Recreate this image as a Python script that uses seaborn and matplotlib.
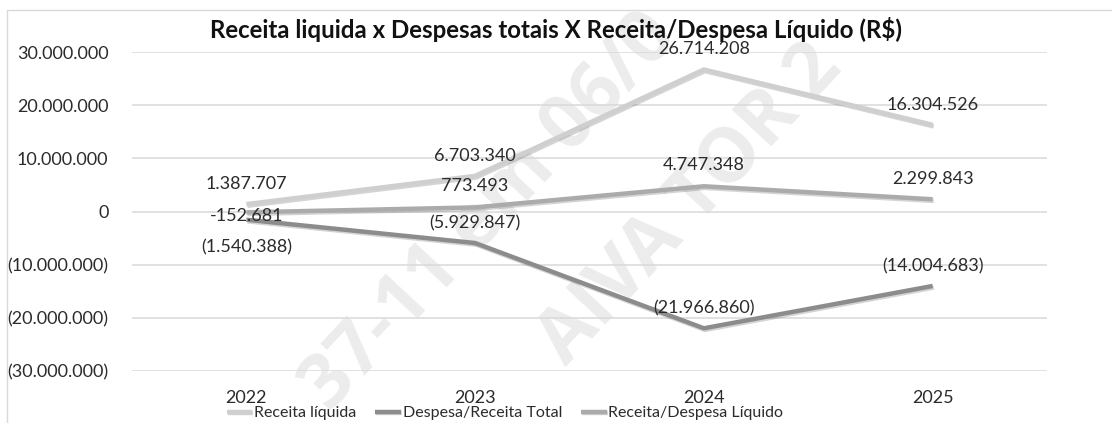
import matplotlib
matplotlib.use("Agg")
import matplotlib.pyplot as plt
import matplotlib.ticker as mticker
import matplotlib.patheffects as pe
from matplotlib.patches import Rectangle
import seaborn as sns
import pandas as pd

# Valores anuais (R$)
anos = ["2022", "2023", "2024", "2025"]
receita_liquida = [1387707, 6703340, 26714208, 16304526]
despesa_total = [-1540388, -5929847, -21966860, -14004683]
resultado_liquido = [-152681, 773493, 4747348, 2299843]

series = ["Receita líquida", "Despesa/Receita Total", "Receita/Despesa Líquido"]
cores = ["#cfcfcf", "#8c8c8c", "#ababab"]
y_ticks = [-30000000, -20000000, -10000000, 0, 10000000, 20000000, 30000000]
titulo = "Receita liquida x Despesas totais X Receita/Despesa Líquido (R$)"

sns.set_theme(style="white")
plt.rcParams["font.family"] = ["Lato", "DejaVu Sans"]
texto = "#2b2b2b"


def milhar(v):
    return f"{abs(int(round(v))):,}".replace(",", ".")


def fmt_parenteses(v):
    if v < 0:
        return f"({milhar(v)})"
    return milhar(v)


def fmt_sinal(v):
    return ("-" if v < 0 else "") + milhar(v)


df = pd.DataFrame({
    "ano": anos * 3,
    "valor": receita_liquida + despesa_total + resultado_liquido,
    "serie": [s for s in series for _ in anos],
})

fig = plt.figure(figsize=(11.12, 4.23), dpi=100)
ax = fig.add_axes([132 / 1112, 1 - 371 / 423, (1047 - 132) / 1112, (371 - 52) / 423])
ax.set_facecolor("none")

# moldura do gráfico
fig.patches.append(Rectangle((7 / 1112, -0.1), 1.2, 1.1 - 10 / 423, transform=fig.transFigure,
                             fill=False, edgecolor="#d9d9d9", linewidth=1.0, zorder=-2))

# marca d'água diagonal (atrás do gráfico)
for txt, (x, y), ang in [("37-11 em 06/0", (490, 212), 47), ("AIVA TOR 2", (690, 205), 47)]:
    fig.text(x / 1112, 1 - y / 423, txt, rotation=ang, ha="center", va="center",
             fontsize=54, fontweight="bold", color="#ececec", zorder=-1, family="Open Sans")

sns.lineplot(data=df, x="ano", y="valor", hue="serie", hue_order=series,
             palette=cores, linewidth=3.2, sort=False, ax=ax, legend=True, zorder=3)

for ln in ax.get_lines():
    ln.set_path_effects([pe.SimpleLineShadow(offset=(0.8, -1.2), alpha=0.25, shadow_color="#555555"),
                         pe.Normal()])
    ln.set_solid_capstyle("butt")

ax.set_xlim(-0.5, 3.5)
ax.set_ylim(-30000000, 30000000)
ax.set_yticks(y_ticks)
ax.yaxis.set_major_formatter(mticker.FuncFormatter(lambda v, p: fmt_parenteses(v)))
ax.grid(axis="y", color="#d9d9d9", linewidth=1.1)
ax.grid(axis="x", visible=False)
for s in ax.spines.values():
    s.set_visible(False)
ax.tick_params(axis="y", length=0, pad=17, labelsize=13, labelcolor=texto)
ax.tick_params(axis="x", length=0, pad=14, labelsize=13, labelcolor=texto)
ax.set_xlabel("")
ax.set_ylabel("")

# rótulos de dados
deslocamentos = {
    "Receita líquida": [20, 20, 20, 20],
    "Despesa/Receita Total": [-28, 20, 20, 20],
    "Receita/Despesa Líquido": [-4, 21, 21, 20],
}
formatos = {
    "Receita líquida": fmt_parenteses,
    "Despesa/Receita Total": fmt_parenteses,
    "Receita/Despesa Líquido": fmt_sinal,
}
valores = {
    "Receita líquida": receita_liquida,
    "Despesa/Receita Total": despesa_total,
    "Receita/Despesa Líquido": resultado_liquido,
}
for nome in series:
    for i, v in enumerate(valores[nome]):
        ax.annotate(formatos[nome](v), (i, v), xytext=(0, deslocamentos[nome][i]),
                    textcoords="offset pixels", ha="center", va="center",
                    fontsize=13, color=texto, zorder=5)

fig.text(0.5, 1 - 30 / 423, titulo, ha="center", va="center", fontsize=17.3,
         fontweight="bold", color="#111111")

handles, labels = ax.get_legend_handles_labels()
ax.get_legend().remove()
fig.legend(handles, labels, loc="center", bbox_to_anchor=(505 / 1112, 1 - 413 / 423), ncol=3,
           frameon=False, fontsize=11.5, handlelength=1.6, handletextpad=0.1,
           columnspacing=1.2, labelcolor=texto, borderpad=0)

fig.savefig("out.png", dpi=100)
